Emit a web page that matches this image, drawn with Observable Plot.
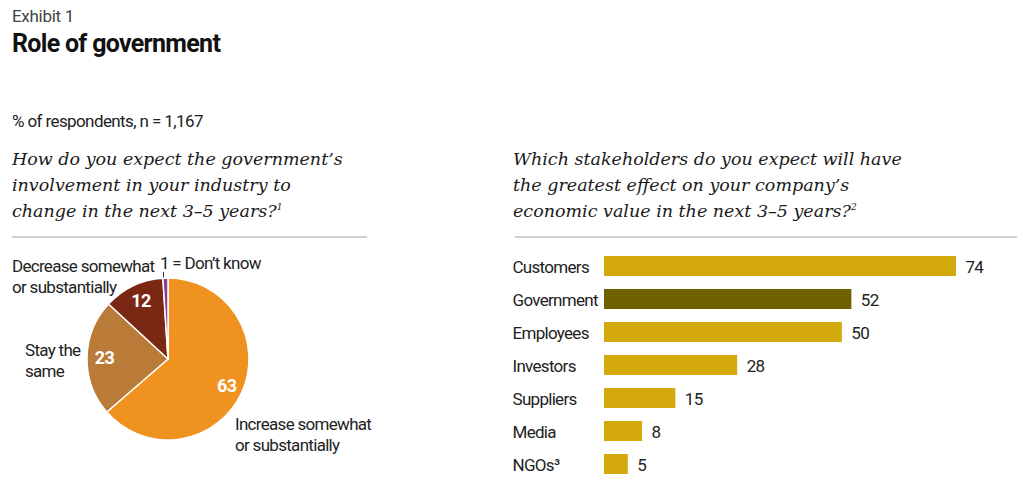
<!DOCTYPE html>
<html>
<head>
<meta charset="utf-8">
<script src="https://cdn.jsdelivr.net/npm/d3@7"></script>
<script src="https://cdn.jsdelivr.net/npm/@observablehq/plot@0.6"></script>
<style>
  html, body { margin: 0; padding: 0; background: #fff; }
  #root { position: relative; width: 1023px; height: 492px; overflow: hidden; background: #fff;
          font-family: "Roboto", sans-serif; color: #222; }
  .abs { position: absolute; white-space: nowrap; }
  .sans { font-family: "Roboto", sans-serif; font-size: 17px; line-height: 21px; letter-spacing: -0.7px; color: #222; }
  .q { font-family: "DejaVu Serif", serif; font-style: italic; font-size: 17.5px; line-height: 26px; color: #1a1a1a; }
  .q .fn { font-size: 9px; line-height: 0; position: relative; top: -7px; vertical-align: baseline; }
  .rule { position: absolute; height: 2px; background: #cfcfcf; }
</style>
</head>
<body>
<div id="root">
  <div class="abs sans" style="left:12px;top:6px;font-size:17px;line-height:20px;letter-spacing:-0.3px;color:#444;">Exhibit 1</div>
  <div class="abs sans" style="left:12px;top:30px;font-size:25px;line-height:28px;letter-spacing:-0.7px;font-weight:bold;color:#111;">Role of government</div>
  <div class="abs sans" style="left:12px;top:111px;font-size:17px;line-height:20px;letter-spacing:-0.6px;">% of respondents, n = 1,167</div>

  <div class="abs q" style="left:12px;top:146px;">How do you expect the government’s<br>involvement in your industry to<br>change in the next 3–5 years?<span class="fn">1</span></div>
  <div class="abs q" style="left:513px;top:146px;">Which stakeholders do you expect will have<br>the greatest effect on your company’s<br>economic value in the next 3–5 years?<span class="fn">2</span></div>
  <div class="rule" style="left:12px;width:355px;top:236px;"></div>
  <div class="rule" style="left:515px;width:502px;top:236px;"></div>

  <div class="abs sans" style="left:12px;top:256px;">Decrease somewhat<br>or substantially</div>
  <div class="abs sans" style="left:160px;top:253px;">1 = Don’t know</div>
  <div class="abs" style="left:163px;top:272px;width:1px;height:10px;background:#333;"></div>
  <div class="abs sans" style="left:25px;top:340px;">Stay the<br>same</div>
  <div class="abs sans" style="left:235px;top:414px;">Increase somewhat<br>or substantially</div>

  <div id="pie" class="abs" style="left:87px;top:278px;"></div>
  <div id="bars" class="abs" style="left:500px;top:248px;"></div>
</div>
<script>
// ---- Data ----
const pieCategories = ["Increase somewhat or substantially", "Stay the same", "Decrease somewhat or substantially", "Don’t know"];
const pieValues = [63, 23, 12, 1];
const pieColors = ["#F0921F", "#B97B37", "#7A2714", "#8C3C98"];

const stakeholders = ["Customers", "Government", "Employees", "Investors", "Suppliers", "Media", "NGOs³"];
const stakeholderValues = [74, 52, 50, 28, 15, 8, 5];
const highlighted = ["Government"];

const FONT = `"Roboto", sans-serif`;

// ---- Pie ----
const pieData = pieCategories.map((c, i) => ({name: c, value: pieValues[i], color: pieColors[i]}));
const arcs = d3.pie().sort(null).value(d => d.value)(pieData);
const labelArc = d3.arc().innerRadius(0.79).outerRadius(0.79);

const pie = Plot.plot({
  width: 162, height: 162,
  margin: 0,
  x: {domain: [-1, 1], axis: null},
  y: {domain: [-1, 1], reverse: true, axis: null},
  style: {overflow: "visible", background: "transparent", fontFamily: FONT, letterSpacing: "-0.5px"},
  marks: [
    (index, scales) => {
      const cx = scales.x(0), cy = scales.y(0), r = scales.x(1) - scales.x(0);
      const arc = d3.arc().innerRadius(0).outerRadius(r);
      const g = d3.create("svg:g").attr("transform", `translate(${cx},${cy})`);
      g.selectAll("path").data(arcs).join("path")
        .attr("d", arc)
        .attr("fill", d => d.data.color)
        .attr("stroke", "#fff")
        .attr("stroke-width", 1.5)
        .attr("stroke-linejoin", "round");
      return g.node();
    },
    Plot.text(arcs.filter(d => d.data.value >= 10), {
      x: d => labelArc.centroid(d)[0],
      y: d => labelArc.centroid(d)[1],
      text: d => String(d.data.value),
      fill: "#fff",
      fontWeight: "bold",
      fontSize: 18
    })
  ]
});
document.getElementById("pie").appendChild(pie);

// ---- Bars ----
const barData = stakeholders.map((s, i) => ({name: s, value: stakeholderValues[i], hi: highlighted.includes(s) ? "hi" : "base"}));

const bars = Plot.plot({
  width: 523, height: 233,
  marginLeft: 104, marginRight: 67, marginTop: 0, marginBottom: 0,
  x: {domain: [0, 74], axis: null},
  y: {domain: stakeholders, paddingInner: 0.4, paddingOuter: 0.2, axis: null},
  color: {domain: ["base", "hi"], range: ["#D4A90C", "#6D6100"]},
  style: {background: "transparent", fontFamily: FONT, fontSize: "17px", letterSpacing: "-0.7px", color: "#222", overflow: "visible"},
  marks: [
    Plot.barX(barData, {x: "value", y: "name", fill: "hi"}),
    Plot.text(barData, {y: "name", text: "name", frameAnchor: "left", textAnchor: "start", dx: -92, dy: 1, fontSize: 17, fill: "#222"}),
    Plot.text(barData, {x: "value", y: "name", text: d => String(d.value), textAnchor: "start", dx: 9, dy: 1, fontSize: 17, fill: "#222"})
  ]
});
document.getElementById("bars").appendChild(bars);
</script>
</body>
</html>
